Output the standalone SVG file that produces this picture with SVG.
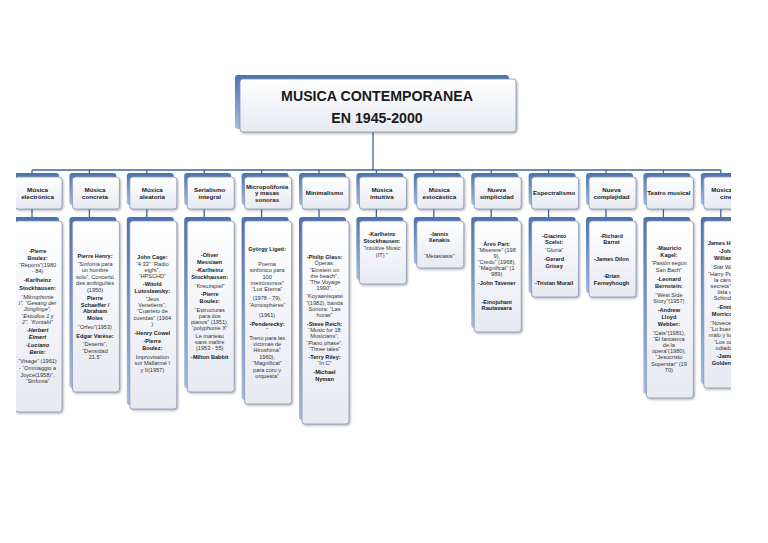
<svg xmlns="http://www.w3.org/2000/svg" width="768" height="543" viewBox="0 0 768 543">
<defs>
<linearGradient id="sh" x1="0" y1="0" x2="0" y2="1"><stop offset="0" stop-color="#4a73b0"/><stop offset="1" stop-color="#a8bfe0"/></linearGradient>
<linearGradient id="fr" x1="0" y1="0" x2="0" y2="1"><stop offset="0" stop-color="#ffffff"/><stop offset="1" stop-color="#e7eaf2"/></linearGradient>
<filter id="ds" x="-20%" y="-20%" width="140%" height="140%"><feDropShadow dx="1" dy="1.2" stdDeviation="0.9" flood-color="#444" flood-opacity="0.45"/></filter>
<clipPath id="page"><rect x="16" y="0" width="715" height="543"/></clipPath>
<style>
.s{fill:url(#sh)}
.f{fill:url(#fr);stroke:#8797b4;stroke-width:0.8;filter:url(#ds)}
.c{stroke:#3f6597;stroke-width:1.3;fill:none}
text{font-family:"Liberation Sans",Arial,sans-serif;text-anchor:middle;fill:#1a1a1a}
.t{font-size:14.2px;font-weight:bold}
.h{font-size:6.2px;font-weight:bold}
.b{font-size:5.6px;font-weight:bold}
.r{font-size:5.6px;fill:#333}
.i{font-size:5.6px;font-style:italic;fill:#333}
.bi{font-size:5.6px;font-weight:bold;font-style:italic}
</style>
</defs>
<rect width="768" height="543" fill="#ffffff"/>
<g clip-path="url(#page)">
<g id="connectors">
<path class="c" d="M373 132V170M32 170H721"/>
<path class="c" d="M32 170V174M89.4 170V174M146.8 170V174M204.2 170V174M261.6 170V174M319 170V174M376.4 170V174M433.8 170V174M491.2 170V174M548.6 170V174M606 170V174M663.4 170V174M720.8 170V174"/>
<path class="c" d="M32 209V218M89.4 209V218M146.8 209V218M204.2 209V218M261.6 209V218M319 209V218M376.4 209V218M433.8 209V218M491.2 209V218M548.6 209V218M606 209V218M663.4 209V218M720.8 209V218"/>
</g>
<g id="title">
<rect class="s" x="235" y="75" width="274" height="54" rx="3"/>
<rect class="f" x="240" y="79" width="276" height="53" rx="3"/>
<text class="t" x="377" y="101">MUSICA CONTEMPORANEA</text>
<text class="t" x="377" y="123">EN 1945-2000</text>
</g>
<g id="n1">
<rect class="s" x="12" y="173" width="47" height="32" rx="3"/><rect class="f" x="15" y="177" width="47" height="32" rx="3"/>
<text class="h" x="37.5" y="192">Música</text><text class="h" x="37.5" y="198.5">electrónica</text>
</g>
<g id="n2">
<rect class="s" x="69.4" y="173" width="47" height="32" rx="3"/><rect class="f" x="72.4" y="177" width="47" height="32" rx="3"/>
<text class="h" x="95" y="192">Música</text><text class="h" x="95" y="198.5">concreta</text>
</g>
<g id="n3">
<rect class="s" x="126.8" y="173" width="47" height="32" rx="3"/><rect class="f" x="129.8" y="177" width="47" height="32" rx="3"/>
<text class="h" x="152.3" y="192">Música</text><text class="h" x="152.3" y="198.5">aleatoria</text>
</g>
<g id="n4">
<rect class="s" x="184.2" y="173" width="47" height="32" rx="3"/><rect class="f" x="187.2" y="177" width="47" height="32" rx="3"/>
<text class="h" x="209.7" y="192">Serialismo</text><text class="h" x="209.7" y="198.5">integral</text>
</g>
<g id="n5">
<rect class="s" x="241.6" y="173" width="47" height="32" rx="3"/><rect class="f" x="244.6" y="177" width="47" height="32" rx="3"/>
<text class="h" x="267.1" y="188.5">Micropolifonia</text><text class="h" x="267.1" y="195">y masas</text><text class="h" x="267.1" y="201.5">sonoras</text>
</g>
<g id="n6">
<rect class="s" x="299" y="173" width="47" height="32" rx="3"/><rect class="f" x="302" y="177" width="47" height="32" rx="3"/>
<text class="h" x="324.5" y="195.2">Minimalismo</text>
</g>
<g id="n7">
<rect class="s" x="356.4" y="173" width="47" height="32" rx="3"/><rect class="f" x="359.4" y="177" width="47" height="32" rx="3"/>
<text class="h" x="381.9" y="192">Música</text><text class="h" x="381.9" y="198.5">intuitiva</text>
</g>
<g id="n8">
<rect class="s" x="413.8" y="173" width="47" height="32" rx="3"/><rect class="f" x="416.8" y="177" width="47" height="32" rx="3"/>
<text class="h" x="439.3" y="192">Música</text><text class="h" x="439.3" y="198.5">estocástica</text>
</g>
<g id="n9">
<rect class="s" x="471.2" y="173" width="47" height="32" rx="3"/><rect class="f" x="474.2" y="177" width="47" height="32" rx="3"/>
<text class="h" x="496.7" y="192">Nueva</text><text class="h" x="496.7" y="198.5">simplicidad</text>
</g>
<g id="n10">
<rect class="s" x="528.6" y="173" width="47" height="32" rx="3"/><rect class="f" x="531.6" y="177" width="47" height="32" rx="3"/>
<text class="h" x="554.1" y="195.2">Espectralismo</text>
</g>
<g id="n11">
<rect class="s" x="586" y="173" width="47" height="32" rx="3"/><rect class="f" x="589" y="177" width="47" height="32" rx="3"/>
<text class="h" x="611.5" y="192">Nueva</text><text class="h" x="611.5" y="198.5">complejidad</text>
</g>
<g id="n12">
<rect class="s" x="643.4" y="173" width="47" height="32" rx="3"/><rect class="f" x="646.4" y="177" width="47" height="32" rx="3"/>
<text class="h" x="668.9" y="195.2">Teatro musical</text>
</g>
<g id="n13">
<rect class="s" x="700.8" y="173" width="47" height="32" rx="3"/><rect class="f" x="703.8" y="177" width="47" height="32" rx="3"/>
<text class="h" x="726.3" y="192">Música de</text><text class="h" x="726.3" y="198.5">cine</text>
</g>
<g id="d1">
<rect class="s" x="12" y="217" width="47" height="191" rx="3"/><rect class="f" x="15" y="221" width="47" height="191" rx="3"/>
<text class="b" x="37.5" y="253">-Pierre</text>
<text class="b" x="37.5" y="260">Boulez:</text>
<text class="r" x="37.5" y="267">“Répons”(1980</text>
<text class="r" x="37.5" y="273">- 84)</text>
<text class="b" x="37.5" y="282">-Karlheinz</text>
<text class="b" x="37.5" y="290">Stockhausen:</text>
<text class="i" x="37.5" y="299">“Mikrophonie</text>
<text class="i" x="37.5" y="305">I”, “Gesang der</text>
<text class="i" x="37.5" y="311">Jünglinge”,</text>
<text class="i" x="37.5" y="318">“Estudios 1 y</text>
<text class="i" x="37.5" y="324">2”, “Kontakt”</text>
<text class="bi" x="37.5" y="332">-Herbert</text>
<text class="bi" x="37.5" y="339">Eimert</text>
<text class="bi" x="37.5" y="347">-Luciano</text>
<text class="bi" x="37.5" y="354">Berio:</text>
<text class="r" x="37.5" y="363">“Visage” (1961)</text>
<text class="r" x="37.5" y="370">- “Ommaggio a</text>
<text class="r" x="37.5" y="377">Joyce(1958)”,</text>
<text class="r" x="37.5" y="383">“Sinfonia”</text>
</g>
<g id="d2">
<rect class="s" x="69.4" y="217" width="47" height="171" rx="3"/><rect class="f" x="72.4" y="221" width="47" height="171" rx="3"/>
<text class="b" x="95" y="258">Pierre Henry:</text>
<text class="r" x="95" y="266">“Sinfonía para</text>
<text class="r" x="95" y="272">un hombre</text>
<text class="r" x="95" y="279">solo”, Concertó</text>
<text class="r" x="95" y="285">des ambiguïtés</text>
<text class="r" x="95" y="292">(1950)</text>
<text class="b" x="95" y="300">Pierre</text>
<text class="b" x="95" y="307">Schaeffer /</text>
<text class="b" x="95" y="313">Abraham</text>
<text class="b" x="95" y="320">Moles</text>
<text class="r" x="95" y="329">“Orfeo”(1953)</text>
<text class="b" x="95" y="338">Edgar Varèse:</text>
<text class="r" x="95" y="346">“Deserts”,</text>
<text class="r" x="95" y="353">“Densidad</text>
<text class="r" x="95" y="359">21.5”</text>
</g>
<g id="d3">
<rect class="s" x="126.8" y="217" width="47" height="188" rx="3"/><rect class="f" x="129.8" y="221" width="47" height="188" rx="3"/>
<text class="b" x="152.3" y="259">John Cage:</text>
<text class="r" x="152.3" y="266">“4:33” “Radio</text>
<text class="r" x="152.3" y="272">eight”,</text>
<text class="r" x="152.3" y="278">“HPSCHD”</text>
<text class="b" x="152.3" y="286">-Witold</text>
<text class="b" x="152.3" y="293">Lutoslawsky:</text>
<text class="r" x="152.3" y="301">“Jeux</text>
<text class="r" x="152.3" y="307">Venetiens”,</text>
<text class="r" x="152.3" y="313">“Cuarteto de</text>
<text class="r" x="152.3" y="320">cuerdas” (1964</text>
<text class="r" x="152.3" y="326">)</text>
<text class="b" x="152.3" y="335">-Henry Cowel</text>
<text class="b" x="152.3" y="343">-Pierre</text>
<text class="b" x="152.3" y="350">Boulez:</text>
<text class="r" x="152.3" y="359">Improvisation</text>
<text class="r" x="152.3" y="365">sur Mallarmé I</text>
<text class="r" x="152.3" y="372">y II(1957)</text>
</g>
<g id="d4">
<rect class="s" x="184.2" y="217" width="47" height="171" rx="3"/><rect class="f" x="187.2" y="221" width="47" height="171" rx="3"/>
<text class="b" x="209.7" y="257">-Oliver</text>
<text class="b" x="209.7" y="264">Messiaen</text>
<text class="b" x="209.7" y="272">-Karlheinz</text>
<text class="b" x="209.7" y="279">Stockhausen:</text>
<text class="r" x="209.7" y="288">“Kreuzspiel”</text>
<text class="b" x="209.7" y="296">-Pierre</text>
<text class="b" x="209.7" y="303">Boulez:</text>
<text class="r" x="209.7" y="312">“Estructuras</text>
<text class="r" x="209.7" y="318">para dos</text>
<text class="r" x="209.7" y="324">pianos” (1951),</text>
<text class="r" x="209.7" y="330">“polyphonie X”</text>
<text class="r" x="209.7" y="338">Le marteau</text>
<text class="r" x="209.7" y="344">sans maître</text>
<text class="r" x="209.7" y="350">(1953 - 55)</text>
<text class="b" x="209.7" y="359">-Milton Babbit</text>
</g>
<g id="d5">
<rect class="s" x="241.6" y="217" width="47" height="183" rx="3"/><rect class="f" x="244.6" y="221" width="47" height="183" rx="3"/>
<text class="b" x="267.1" y="251">György Ligeti:</text>
<text class="r" x="267.1" y="266">Poema</text>
<text class="r" x="267.1" y="272">sinfónico para</text>
<text class="r" x="267.1" y="279">100</text>
<text class="r" x="267.1" y="285">metrónomos”</text>
<text class="r" x="267.1" y="291">“Lux Eterna”</text>
<text class="r" x="267.1" y="300">(1978 - 79),</text>
<text class="r" x="267.1" y="307">“Atmosphères”</text>
<text class="r" x="267.1" y="317">(1961)</text>
<text class="b" x="267.1" y="326">-Penderecky:</text>
<text class="r" x="267.1" y="332">”</text>
<text class="r" x="267.1" y="340">Treno para las</text>
<text class="r" x="267.1" y="346">víctimas de</text>
<text class="r" x="267.1" y="352">Hiroshima”</text>
<text class="r" x="267.1" y="359">1960),</text>
<text class="r" x="267.1" y="365">“Magnificat”</text>
<text class="r" x="267.1" y="372">para coro y</text>
<text class="r" x="267.1" y="378">orquesta”</text>
</g>
<g id="d6">
<rect class="s" x="299" y="217" width="47" height="203" rx="3"/><rect class="f" x="302" y="221" width="47" height="203" rx="3"/>
<text class="b" x="324.5" y="259">-Philip Glass:</text>
<text class="r" x="324.5" y="265">Óperas:</text>
<text class="r" x="324.5" y="272">“Einstein on</text>
<text class="r" x="324.5" y="278">the beach”,</text>
<text class="r" x="324.5" y="284">“The Voyage</text>
<text class="r" x="324.5" y="290">1990”,</text>
<text class="r" x="324.5" y="298">“Koyaanisqatsi</text>
<text class="r" x="324.5" y="305">”(1982), banda</text>
<text class="r" x="324.5" y="311">Sonora: “Las</text>
<text class="r" x="324.5" y="317">horas”</text>
<text class="b" x="324.5" y="326">-Steve Reich:</text>
<text class="r" x="324.5" y="332">“Music for 18</text>
<text class="r" x="324.5" y="338">Musicians”,</text>
<text class="r" x="324.5" y="345">“Piano phase”,</text>
<text class="r" x="324.5" y="351">“Three tales”</text>
<text class="b" x="324.5" y="359">-Terry Riley:</text>
<text class="r" x="324.5" y="365">“In C”</text>
<text class="b" x="324.5" y="374">-Michael</text>
<text class="b" x="324.5" y="381">Nyman</text>
</g>
<g id="d7">
<rect class="s" x="356.4" y="217" width="47" height="63" rx="3"/><rect class="f" x="359.4" y="221" width="47" height="63" rx="3"/>
<text class="b" x="381.9" y="236">-Karlheinz</text>
<text class="b" x="381.9" y="243">Stockhausen:</text>
<text class="r" x="381.9" y="250">“Intuitive Music</text>
<text class="r" x="381.9" y="257">(IT) ”</text>
</g>
<g id="d8">
<rect class="s" x="413.8" y="217" width="47" height="47" rx="3"/><rect class="f" x="416.8" y="221" width="47" height="47" rx="3"/>
<text class="b" x="439.3" y="236">-Iannis</text>
<text class="b" x="439.3" y="242">Xenakis</text>
<text class="r" x="439.3" y="258">“Metastasis”</text>
</g>
<g id="d9">
<rect class="s" x="471.2" y="217" width="47" height="111" rx="3"/><rect class="f" x="474.2" y="221" width="47" height="111" rx="3"/>
<text class="b" x="496.7" y="246">Árvo Part:</text>
<text class="r" x="496.7" y="252">“Miserere” (198</text>
<text class="r" x="496.7" y="258">9),</text>
<text class="r" x="496.7" y="264">“Credo” (1968),</text>
<text class="r" x="496.7" y="270">“Magnificat” (1</text>
<text class="r" x="496.7" y="276">989)</text>
<text class="b" x="496.7" y="285">-John Tavener</text>
<text class="b" x="496.7" y="304">-Einojuhani</text>
<text class="b" x="496.7" y="310">Rautavaara</text>
</g>
<g id="d10">
<rect class="s" x="528.6" y="217" width="47" height="76" rx="3"/><rect class="f" x="531.6" y="221" width="47" height="76" rx="3"/>
<text class="b" x="554.1" y="238">-Giacinto</text>
<text class="b" x="554.1" y="244">Scelsi:</text>
<text class="r" x="554.1" y="252">“Gloria”</text>
<text class="b" x="554.1" y="261">-Gerard</text>
<text class="b" x="554.1" y="268">Grisey</text>
<text class="b" x="554.1" y="285">-Tristan Murail</text>
</g>
<g id="d11">
<rect class="s" x="586" y="217" width="47" height="76" rx="3"/><rect class="f" x="589" y="221" width="47" height="76" rx="3"/>
<text class="b" x="611.5" y="238">-Richard</text>
<text class="b" x="611.5" y="244">Barret</text>
<text class="b" x="611.5" y="261">-James Dilon</text>
<text class="b" x="611.5" y="278">-Brian</text>
<text class="b" x="611.5" y="285">Ferneyhough</text>
</g>
<g id="d12">
<rect class="s" x="643.4" y="217" width="47" height="177" rx="3"/><rect class="f" x="646.4" y="221" width="47" height="177" rx="3"/>
<text class="b" x="668.9" y="250">-Mauricio</text>
<text class="b" x="668.9" y="257">Kagel:</text>
<text class="r" x="668.9" y="265">“Pasión según</text>
<text class="r" x="668.9" y="272">San Bach”</text>
<text class="b" x="668.9" y="281">-Leonard</text>
<text class="b" x="668.9" y="288">Bernstein:</text>
<text class="r" x="668.9" y="297">“West Side</text>
<text class="r" x="668.9" y="303">Story”(1957)</text>
<text class="b" x="668.9" y="312">-Andrew</text>
<text class="b" x="668.9" y="319">Lloyd</text>
<text class="b" x="668.9" y="326">Webber:</text>
<text class="r" x="668.9" y="335">“Cats”(1981),</text>
<text class="r" x="668.9" y="341">“El fantasma</text>
<text class="r" x="668.9" y="347">de la</text>
<text class="r" x="668.9" y="353">ópera”(1980),</text>
<text class="r" x="668.9" y="359">“Jesucristo</text>
<text class="r" x="668.9" y="366">Superstar” (19</text>
<text class="r" x="668.9" y="372">70)</text>
</g>
<g id="d13">
<rect class="s" x="700.8" y="217" width="47" height="167" rx="3"/><rect class="f" x="703.8" y="221" width="47" height="167" rx="3"/>
<text class="b" x="726.3" y="245">James Horner</text>
<text class="b" x="726.3" y="253">-John</text>
<text class="b" x="726.3" y="260">Williams:</text>
<text class="r" x="726.3" y="269">“Star Wars”,</text>
<text class="r" x="726.3" y="276">“Harry Potter y</text>
<text class="r" x="726.3" y="282">la cámara</text>
<text class="r" x="726.3" y="288">secreta”, “La</text>
<text class="r" x="726.3" y="294">lista de</text>
<text class="r" x="726.3" y="300">Schindler”</text>
<text class="b" x="726.3" y="309">-Ennio</text>
<text class="b" x="726.3" y="316">Morricone:</text>
<text class="r" x="726.3" y="325">“Novecento”,</text>
<text class="r" x="726.3" y="331">“Lo bueno, lo</text>
<text class="r" x="726.3" y="337">malo y lo feo”,</text>
<text class="r" x="726.3" y="344">“Los ocho</text>
<text class="r" x="726.3" y="350">odiados”</text>
<text class="b" x="726.3" y="358">-James</text>
<text class="b" x="726.3" y="365">Goldenthal</text>
</g>
</g>
</svg>
